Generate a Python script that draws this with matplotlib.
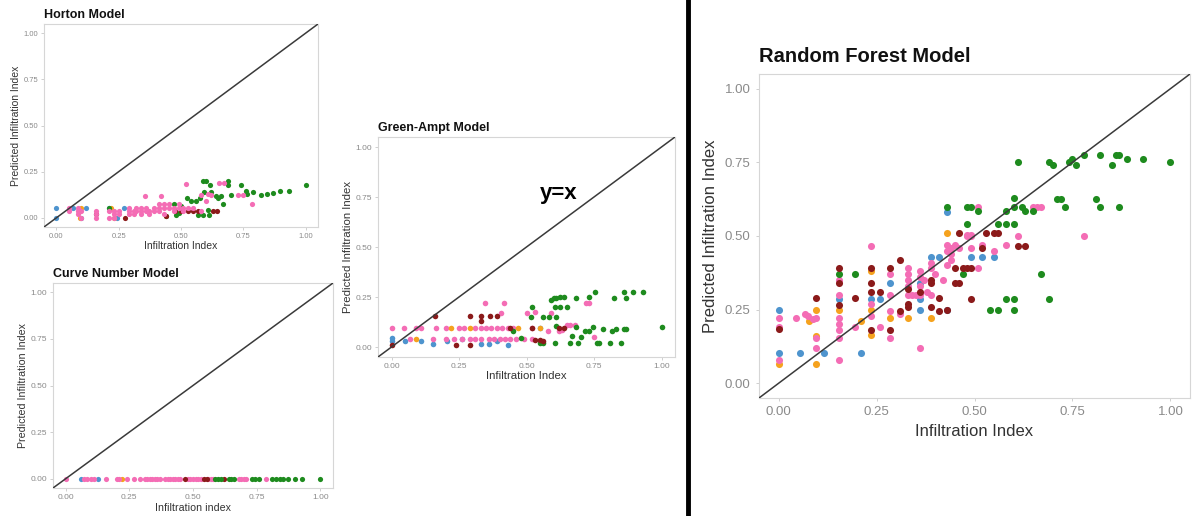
"""
Observed vs predicted infiltration index for four models (composite figure).
"""

import matplotlib
matplotlib.use('Agg')
import matplotlib.pyplot as plt
from matplotlib.lines import Line2D

plt.rcParams['font.family'] = ['Liberation Sans', 'DejaVu Sans']

W, H = 1193, 516

GREEN = '#1E8B1E'
PINK = '#F46DB5'
DARKRED = '#8B1A1A'
BLUE = '#4E94CE'
ORANGE = '#F5A21E'

# ---------------- Horton ----------------
horton_green_x = [0.587, 0.60, 0.616, 0.69, 0.69, 0.74, 1.0, 0.935, 0.897, 0.87, 0.845, 0.82, 0.79,
                  0.765, 0.76, 0.70, 0.67, 0.65, 0.64, 0.62, 0.594, 0.578, 0.56, 0.54, 0.525, 0.50,
                  0.49, 0.48, 0.567, 0.587, 0.613, 0.61, 0.47, 0.438, 0.21, 0.66]
horton_green_y = [0.198, 0.198, 0.177, 0.198, 0.177, 0.177, 0.177, 0.144, 0.144, 0.135, 0.13, 0.126, 0.139,
                  0.13, 0.144, 0.126, 0.077, 0.108, 0.12, 0.139, 0.139, 0.108, 0.09, 0.09, 0.108, 0.063,
                  0.027, 0.013, 0.013, 0.013, 0.013, 0.04, 0.072, 0.009, 0.054, 0.12]
horton_pink_x = [0.05, 0.05, 0.085, 0.085, 0.085, 0.10, 0.10, 0.16, 0.16, 0.16, 0.21, 0.21, 0.23, 0.23,
                 0.23, 0.25, 0.25, 0.29, 0.29, 0.29, 0.31, 0.31, 0.32, 0.32, 0.34, 0.34, 0.34, 0.36,
                 0.36, 0.37, 0.37, 0.39, 0.39, 0.41, 0.41, 0.41, 0.43, 0.43, 0.43, 0.45, 0.45, 0.47,
                 0.47, 0.49, 0.49, 0.51, 0.51, 0.53, 0.55, 0.58,
                 0.354, 0.42, 0.52, 0.653, 0.673, 0.58, 0.62, 0.728, 0.75, 0.785, 0.61, 0.60]
horton_pink_y = [0.036, 0.054, 0.018, 0.036, 0.054, 0.0, 0.036, 0.0, 0.018, 0.036, 0.0, 0.036, 0.0, 0.018,
                 0.036, 0.018, 0.036, 0.018, 0.036, 0.054, 0.018, 0.036, 0.036, 0.054, 0.018, 0.036, 0.054, 0.036,
                 0.054, 0.018, 0.036, 0.036, 0.054, 0.036, 0.054, 0.072, 0.018, 0.054, 0.072, 0.054, 0.072, 0.036,
                 0.054, 0.054, 0.072, 0.036, 0.054, 0.054, 0.054, 0.036,
                 0.12, 0.12, 0.185, 0.186, 0.186, 0.126, 0.126, 0.126, 0.126, 0.072, 0.13, 0.09]
horton_blue_x = [0.0, 0.0, 0.065, 0.12, 0.21, 0.10, 0.27, 0.245]
horton_blue_y = [0.054, 0.0, 0.054, 0.054, 0.054, 0.0, 0.054, 0.0]
horton_orange_x = [0.095, 0.10, 0.23, 0.22]
horton_orange_y = [0.0, 0.054, 0.0, 0.054]
horton_darkred_x = [0.16, 0.275, 0.44, 0.475, 0.50, 0.53, 0.55, 0.57, 0.63, 0.645]
horton_darkred_y = [0.018, 0.0, 0.009, 0.036, 0.036, 0.036, 0.036, 0.036, 0.036, 0.036]

# ---------------- Curve Number (all predictions are zero) ----------------
cn_pred = 0.0
cn_pink_x = [0.0, 0.07, 0.085, 0.10, 0.11, 0.16, 0.20, 0.21, 0.24, 0.27, 0.29, 0.31, 0.32, 0.33, 0.34,
             0.35, 0.36, 0.37, 0.39, 0.40, 0.41, 0.42, 0.43, 0.44, 0.45, 0.48, 0.49, 0.50, 0.51, 0.52,
             0.53, 0.56, 0.57, 0.58, 0.68, 0.69, 0.70, 0.71, 0.785]
cn_blue_x = [0.06, 0.125]
cn_orange_x = [0.22]
cn_darkred_x = [0.47, 0.545, 0.555, 0.62]
cn_green_x = [0.585, 0.60, 0.61, 0.64, 0.65, 0.66, 0.73, 0.745, 0.76, 0.81, 0.825, 0.84, 0.855,
              0.875, 0.90, 0.93, 1.0]

# ---------------- Green-Ampt ----------------
ga_pink_x = [0.0, 0.045, 0.09, 0.11, 0.165, 0.2, 0.25, 0.27, 0.31, 0.33, 0.35, 0.37, 0.39, 0.41, 0.43,
             0.45, 0.52,
             0.07, 0.155, 0.2, 0.23, 0.26, 0.29, 0.31, 0.33, 0.36, 0.38, 0.40, 0.42, 0.44, 0.46, 0.49, 0.52,
             0.345, 0.415, 0.405, 0.50, 0.53, 0.59, 0.72, 0.73, 0.65, 0.66, 0.68, 0.62, 0.63, 0.58, 0.75]
ga_pink_y = [0.095, 0.095, 0.095, 0.095, 0.095, 0.095, 0.095, 0.095, 0.095, 0.095, 0.095, 0.095, 0.095,
             0.095, 0.095, 0.095, 0.095,
             0.04, 0.04, 0.04, 0.04, 0.04, 0.04, 0.04, 0.04, 0.04, 0.04, 0.04, 0.04, 0.04, 0.04, 0.04, 0.04,
             0.22, 0.22, 0.17, 0.17, 0.175, 0.17, 0.22, 0.22, 0.11, 0.11, 0.11, 0.078, 0.086, 0.078, 0.048]
ga_orange_x = [0.22, 0.29, 0.47, 0.55, 0.09]
ga_orange_y = [0.095, 0.095, 0.095, 0.095, 0.04]
ga_blue_x = [0.0, 0.05, 0.11, 0.205, 0.26, 0.39, 0.55, 0.155, 0.33, 0.36, 0.43, 0.0]
ga_blue_y = [0.03, 0.03, 0.03, 0.03, 0.04, 0.03, 0.095, 0.015, 0.015, 0.015, 0.008, 0.045]
ga_darkred_x = [0.0, 0.16, 0.29, 0.33, 0.33, 0.365, 0.39, 0.24, 0.29, 0.44, 0.52, 0.53, 0.55, 0.56,
                0.62, 0.64]
ga_darkred_y = [0.01, 0.157, 0.157, 0.157, 0.13, 0.157, 0.157, 0.01, 0.01, 0.094, 0.094, 0.036, 0.036,
                0.03, 0.094, 0.094]
ga_green_x = [0.52, 0.515, 0.48, 0.55, 0.56, 0.59, 0.60, 0.61, 0.625, 0.64, 0.605, 0.625, 0.65, 0.685,
              0.73, 0.755, 0.825, 0.86, 0.895, 0.93, 0.87, 0.56, 0.585, 0.61, 0.61, 0.685, 0.715, 0.73,
              0.745, 0.785, 0.815, 0.83, 0.86, 0.87, 0.81, 0.85, 1.0, 0.605, 0.66, 0.69, 0.76, 0.77,
              0.70, 0.67, 0.45]
ga_green_y = [0.20, 0.152, 0.045, 0.02, 0.02, 0.235, 0.243, 0.243, 0.25, 0.25, 0.2, 0.2, 0.2, 0.243,
              0.25, 0.276, 0.246, 0.276, 0.276, 0.276, 0.246, 0.152, 0.152, 0.152, 0.106, 0.102, 0.078, 0.078,
              0.102, 0.09, 0.081, 0.09, 0.09, 0.09, 0.02, 0.022, 0.102, 0.02, 0.02, 0.022, 0.02, 0.02,
              0.05, 0.053, 0.08]

# ---------------- Random Forest ----------------
rf_green_x = [0.155, 0.195, 0.47, 0.43, 0.48, 0.49, 0.51, 0.48, 0.60, 0.60, 0.58, 0.56, 0.58, 0.60,
              0.62, 0.63, 0.65, 0.71, 0.72, 0.73, 0.81, 0.82, 0.87, 0.61, 0.69, 0.70, 0.74, 0.75, 0.76,
              0.78, 0.82, 0.85, 0.86, 0.87, 0.89, 0.93, 1.00, 0.67, 0.69, 0.58, 0.60, 0.54, 0.56, 0.60]
rf_green_y = [0.37, 0.37, 0.37, 0.60, 0.60, 0.60, 0.585, 0.54, 0.60, 0.63, 0.585, 0.54, 0.54, 0.54,
              0.60, 0.585, 0.585, 0.625, 0.625, 0.60, 0.625, 0.60, 0.60, 0.75, 0.75, 0.74, 0.75, 0.76, 0.74,
              0.775, 0.775, 0.74, 0.775, 0.775, 0.76, 0.76, 0.75, 0.37, 0.285, 0.285, 0.285, 0.25, 0.25, 0.25]
rf_pink_x = [0.0, 0.0, 0.0, 0.045, 0.067, 0.075, 0.087, 0.095, 0.095, 0.095, 0.155, 0.155, 0.155, 0.155,
             0.155, 0.155, 0.155, 0.195, 0.235, 0.235, 0.235, 0.26, 0.285, 0.285, 0.285, 0.285, 0.31,
             0.33, 0.33, 0.33, 0.33, 0.33, 0.34, 0.35, 0.36, 0.36, 0.36, 0.36, 0.36, 0.39, 0.39, 0.39,
             0.43, 0.43, 0.43, 0.44, 0.44, 0.44, 0.45, 0.48, 0.49, 0.49, 0.51, 0.52, 0.55, 0.58, 0.61,
             0.78, 0.51, 0.65, 0.66, 0.67, 0.48, 0.49, 0.46, 0.40, 0.42, 0.37, 0.38]
rf_pink_y = [0.22, 0.19, 0.08, 0.22, 0.235, 0.227, 0.218, 0.22, 0.155, 0.12, 0.35, 0.30, 0.22, 0.20,
             0.18, 0.155, 0.08, 0.19, 0.465, 0.27, 0.23, 0.19, 0.37, 0.30, 0.245, 0.155, 0.235,
             0.39, 0.37, 0.35, 0.33, 0.30, 0.30, 0.30, 0.38, 0.36, 0.33, 0.30, 0.12, 0.41, 0.39, 0.30,
             0.47, 0.45, 0.40, 0.46, 0.44, 0.42, 0.47, 0.50, 0.46, 0.50, 0.39, 0.47, 0.45, 0.47, 0.50,
             0.50, 0.60, 0.60, 0.60, 0.60, 0.505, 0.505, 0.46, 0.37, 0.35, 0.35, 0.31]
rf_darkred_x = [0.0, 0.095, 0.155, 0.155, 0.155, 0.195, 0.235, 0.235, 0.235, 0.235, 0.26, 0.285, 0.285,
                0.31, 0.31, 0.33, 0.33, 0.33, 0.36, 0.39, 0.39, 0.39, 0.41, 0.41, 0.43, 0.45, 0.45,
                0.47, 0.48, 0.49, 0.49, 0.52, 0.61, 0.63, 0.46, 0.53, 0.55, 0.56, 0.46]
rf_darkred_y = [0.184, 0.288, 0.39, 0.34, 0.266, 0.288, 0.39, 0.34, 0.31, 0.18, 0.31, 0.39, 0.18,
                0.418, 0.245, 0.32, 0.27, 0.26, 0.31, 0.35, 0.34, 0.26, 0.29, 0.245, 0.25, 0.39, 0.34,
                0.39, 0.39, 0.39, 0.285, 0.46, 0.465, 0.465, 0.51, 0.51, 0.51, 0.51, 0.34]
rf_blue_x = [0.0, 0.0, 0.054, 0.117, 0.155, 0.21, 0.235, 0.26, 0.285, 0.36, 0.36, 0.36, 0.39, 0.41,
             0.43, 0.49, 0.52, 0.55, 0.43]
rf_blue_y = [0.25, 0.103, 0.103, 0.103, 0.285, 0.103, 0.285, 0.285, 0.34, 0.34, 0.285, 0.25, 0.43, 0.43,
             0.25, 0.43, 0.43, 0.43, 0.58]
rf_orange_x = [0.0, 0.077, 0.095, 0.095, 0.095, 0.155, 0.21, 0.235, 0.235, 0.235, 0.285, 0.33, 0.39, 0.43]
rf_orange_y = [0.066, 0.21, 0.25, 0.162, 0.065, 0.25, 0.21, 0.38, 0.25, 0.165, 0.22, 0.22, 0.22, 0.51]

ticks = [0.0, 0.25, 0.5, 0.75, 1.0]
tick_labels = ['0.00', '0.25', '0.50', '0.75', '1.00']


def make_panel(fig, box, title, xlabel, series, dot, title_fs, tick_fs, label_fs,
               title_pad=4, tick_pad=2, xpad=1, ypad=2):
    left, top, right, bottom = box
    ax = fig.add_axes([left / W, 1 - bottom / H, (right - left) / W, (bottom - top) / H])
    for xs, ys, color in series:
        ax.scatter(xs, ys, s=dot, color=color, linewidths=0, zorder=3)
    ax.axline((0, 0), (1, 1), color='#3A3A3A', lw=1.1, zorder=4)
    ax.set_xlim(-0.05, 1.05)
    ax.set_ylim(-0.05, 1.05)
    ax.set_xticks(ticks)
    ax.set_yticks(ticks)
    ax.set_xticklabels(tick_labels)
    ax.set_yticklabels(tick_labels)
    ax.tick_params(labelsize=tick_fs, colors='#C8C8C8', labelcolor='#8A8A8A', length=2, width=0.6,
                   pad=tick_pad)
    for sp in ax.spines.values():
        sp.set_color('#D6D6D6')
        sp.set_linewidth(0.8)
    ax.set_title(title, loc='left', fontsize=title_fs, fontweight='bold', color='#111111', pad=title_pad)
    ax.set_xlabel(xlabel, fontsize=label_fs, color='#333333', labelpad=xpad)
    ax.set_ylabel('Predicted Infiltration Index', fontsize=label_fs, color='#333333', labelpad=ypad)
    return ax


fig = plt.figure(figsize=(W / 100, H / 100), dpi=100)

make_panel(fig, (44, 24, 318, 227), 'Horton Model', 'Infiltration Index',
           [(horton_blue_x, horton_blue_y, BLUE), (horton_orange_x, horton_orange_y, ORANGE),
            (horton_green_x, horton_green_y, GREEN), (horton_darkred_x, horton_darkred_y, DARKRED),
            (horton_pink_x, horton_pink_y, PINK)],
           dot=14, title_fs=9, tick_fs=5.5, label_fs=7.5)

make_panel(fig, (53, 283, 333, 488), 'Curve Number Model', 'Infiltration index',
           [(cn_blue_x, [cn_pred] * len(cn_blue_x), BLUE),
            (cn_orange_x, [cn_pred] * len(cn_orange_x), ORANGE),
            (cn_pink_x, [cn_pred] * len(cn_pink_x), PINK),
            (cn_darkred_x, [cn_pred] * len(cn_darkred_x), DARKRED),
            (cn_green_x, [cn_pred] * len(cn_green_x), GREEN)],
           dot=14, title_fs=9, tick_fs=6, label_fs=7.7, xpad=2)

ax_ga = make_panel(fig, (378, 137, 675, 357), 'Green-Ampt Model', 'Infiltration Index',
                   [(ga_blue_x, ga_blue_y, BLUE), (ga_pink_x, ga_pink_y, PINK),
                    (ga_orange_x, ga_orange_y, ORANGE), (ga_green_x, ga_green_y, GREEN),
                    (ga_darkred_x, ga_darkred_y, DARKRED)],
                   dot=16, title_fs=9, tick_fs=6, label_fs=8.2)
ax_ga.text(0.62, 0.77, 'y=x', fontsize=16, fontweight='bold', color='black', ha='center', va='center')

make_panel(fig, (759, 74, 1190, 398), 'Random Forest Model', 'Infiltration Index',
           [(rf_blue_x, rf_blue_y, BLUE), (rf_orange_x, rf_orange_y, ORANGE),
            (rf_pink_x, rf_pink_y, PINK), (rf_green_x, rf_green_y, GREEN),
            (rf_darkred_x, rf_darkred_y, DARKRED)],
           dot=26, title_fs=14.5, tick_fs=9.5, label_fs=12,
           title_pad=9, tick_pad=4, xpad=4, ypad=5)

# thick black divider between the panels
fig.add_artist(Line2D([688 / W, 688 / W], [0, 1], color='black', lw=3.5))

plt.savefig('out.png', dpi=100)
